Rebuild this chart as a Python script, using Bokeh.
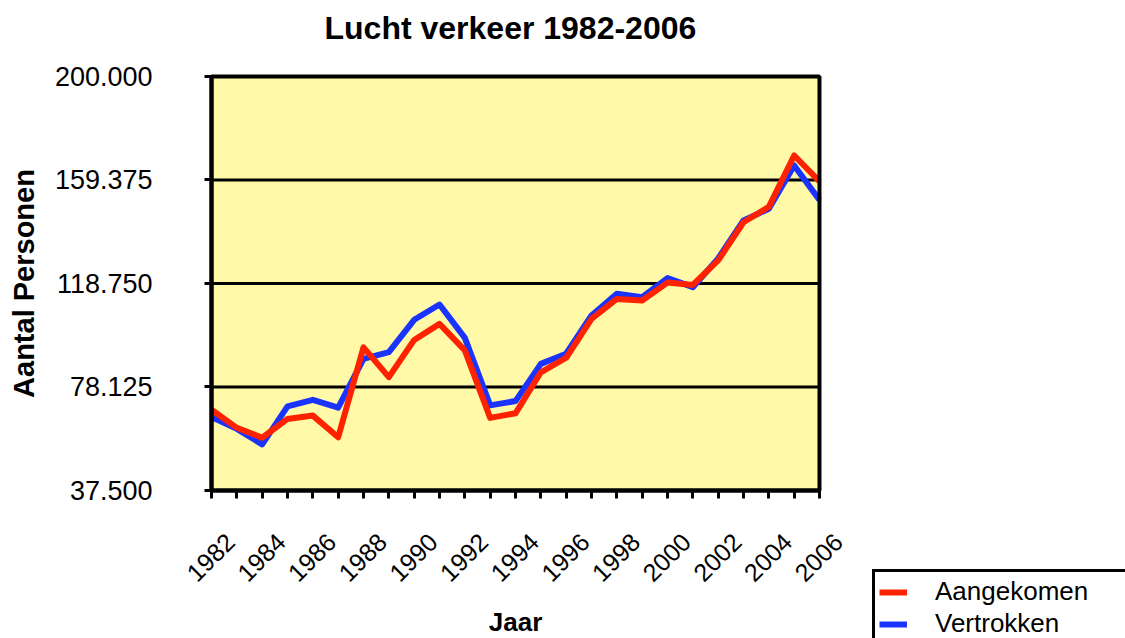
from math import pi
from bokeh.plotting import figure
from bokeh.models import (Range1d, FixedTicker, LinearAxis, Legend, LegendItem, BoxAnnotation)
from bokeh.embed import file_html
from bokeh.resources import INLINE

# ---- data ----
YEARS = list(range(1982, 2007))
AANGEKOMEN = [69200, 62100, 58200, 65600, 66900, 58400, 93700, 82000, 96600, 102900,
              92500, 66000, 67800, 83900, 89600, 104900, 112700, 112100, 119100, 118200,
              127800, 142800, 148800, 169000, 158800]
VERTROKKEN = [66300, 61700, 55600, 70500, 73100, 70000, 89200, 91800, 104500, 110500,
              97400, 70900, 72600, 87200, 91200, 106200, 114700, 113400, 120900, 117300,
              128600, 143500, 148100, 165100, 151500]
Y_TICKS = [37500, 78125, 118750, 159375, 200000]
X_LABEL_TICKS = list(range(1982, 2007, 2))
TITLE = "Lucht verkeer 1982-2006"
SERIES = ["Aangekomen", "Vertrokken"]
COLORS = ["#FF2200", "#1B33FF"]
PLOT_BG = "#FFF9A8"
FONT = "Liberation Sans"

# ---- layout constants (the frame covers the whole page below the title; the
# plot area, axes and legend are placed inside it) ----
X_PAD_LEFT, X_PAD_RIGHT = 8.33, 12.08       # years of room left/right of the plot area
Y_PAD_TOP, Y_PAD_BOTTOM = 10205, 58092      # value room above/below the plot area
LABEL_SHIFT = 0.74                          # moves rotated year labels onto their ticks

x0, x1 = YEARS[0] - X_PAD_LEFT, YEARS[-1] + X_PAD_RIGHT
p = figure(width=1125, height=638, output_backend="svg", toolbar_location=None,
           x_range=Range1d(x0, x1),
           y_range=Range1d(Y_TICKS[0] - Y_PAD_BOTTOM, Y_TICKS[-1] + Y_PAD_TOP),
           min_border_left=0, min_border_right=0, min_border_top=50, min_border_bottom=0,
           background_fill_color="white", border_fill_color="white")
p.extra_x_ranges = {"lab": Range1d(x0 - LABEL_SHIFT, x1 - LABEL_SHIFT)}
p.outline_line_color = None
p.xgrid.visible = False
p.ygrid.visible = False

p.title.text = TITLE
p.title.align = "left"
p.title.offset = 324
p.title.standoff = 10
p.title.text_font = FONT
p.title.text_font_size = "32px"
p.title.text_font_style = "bold"
p.title.text_color = "black"

# plot area (yellow)
p.add_layout(BoxAnnotation(left=YEARS[0], right=YEARS[-1], bottom=Y_TICKS[0], top=Y_TICKS[-1],
                           fill_color=PLOT_BG, fill_alpha=1, line_color=None, level="underlay"))
# horizontal grid lines at the y ticks
p.segment(x0=YEARS[0], x1=YEARS[-1], y0=Y_TICKS, y1=Y_TICKS, line_color="black", line_width=3)

# y axis
ya = p.yaxis[0]
ya.fixed_location = YEARS[0]
ya.bounds = (Y_TICKS[0], Y_TICKS[-1])
ya.ticker = FixedTicker(ticks=Y_TICKS)
ya.major_label_overrides = {v: f"{v:,}".replace(",", ".") for v in Y_TICKS}
ya.axis_line_color = "black"
ya.axis_line_width = 4
ya.major_tick_line_color = "black"
ya.major_tick_line_width = 3
ya.major_tick_out = 7
ya.major_tick_in = 0
ya.minor_tick_line_color = None
ya.major_label_standoff = 52
ya.major_label_text_font = FONT
ya.major_label_text_font_size = "27px"
ya.major_label_text_color = "black"
ya.axis_label = "Aantal Personen"
ya.axis_label_text_font = FONT
ya.axis_label_text_font_size = "29px"
ya.axis_label_text_font_style = "bold"
ya.axis_label_text_color = "black"
ya.axis_label_standoff = 12

# x axis: a tick for every year + axis title
xa = p.xaxis[0]
xa.fixed_location = Y_TICKS[0]
xa.bounds = (YEARS[0], YEARS[-1])
xa.ticker = FixedTicker(ticks=YEARS)
xa.axis_line_color = "black"
xa.axis_line_width = 4
xa.major_tick_line_color = "black"
xa.major_tick_line_width = 3
xa.major_tick_out = 8
xa.major_tick_in = 0
xa.minor_tick_line_color = None
xa.major_label_text_color = None
xa.major_label_standoff = 0
xa.axis_label = "Jaar"
xa.axis_label_text_font = FONT
xa.axis_label_text_font_size = "26px"
xa.axis_label_text_font_style = "bold"
xa.axis_label_text_color = "black"
xa.axis_label_standoff = 108

# x axis: rotated labels every second year
xl = LinearAxis(x_range_name="lab", ticker=FixedTicker(ticks=X_LABEL_TICKS))
xl.fixed_location = Y_TICKS[0]
xl.axis_line_color = None
xl.major_tick_line_color = None
xl.major_tick_out = 0
xl.major_tick_in = 0
xl.minor_tick_line_color = None
xl.major_label_orientation = pi / 4
xl.major_label_standoff = 47
xl.major_label_text_font = FONT
xl.major_label_text_font_size = "25px"
xl.major_label_text_color = "black"
p.add_layout(xl, "below")

# lines
r_blue = p.line(YEARS, VERTROKKEN, line_color=COLORS[1], line_width=6, line_join="round")
r_red = p.line(YEARS, AANGEKOMEN, line_color=COLORS[0], line_width=6, line_join="round")

# border of the plot area
p.add_layout(BoxAnnotation(left=YEARS[0], right=YEARS[-1], bottom=Y_TICKS[0], top=Y_TICKS[-1],
                           fill_alpha=0, line_color="black", line_alpha=1, line_width=4,
                           level="annotation"))

legend = Legend(items=[LegendItem(label=SERIES[0], renderers=[r_red]),
                       LegendItem(label=SERIES[1], renderers=[r_blue])],
                location=(872, -8))
legend.padding = 4
legend.spacing = 1
legend.margin = 0
legend.glyph_width = 28
legend.glyph_height = 20
legend.label_standoff = 28
legend.label_width = 200
legend.label_text_font = FONT
legend.label_text_font_size = "26px"
legend.label_text_color = "black"
legend.border_line_color = "black"
legend.border_line_width = 3
legend.border_line_alpha = 1
legend.background_fill_color = "white"
legend.background_fill_alpha = 1
p.add_layout(legend)

open("out.html", "w").write(file_html(p, INLINE))
